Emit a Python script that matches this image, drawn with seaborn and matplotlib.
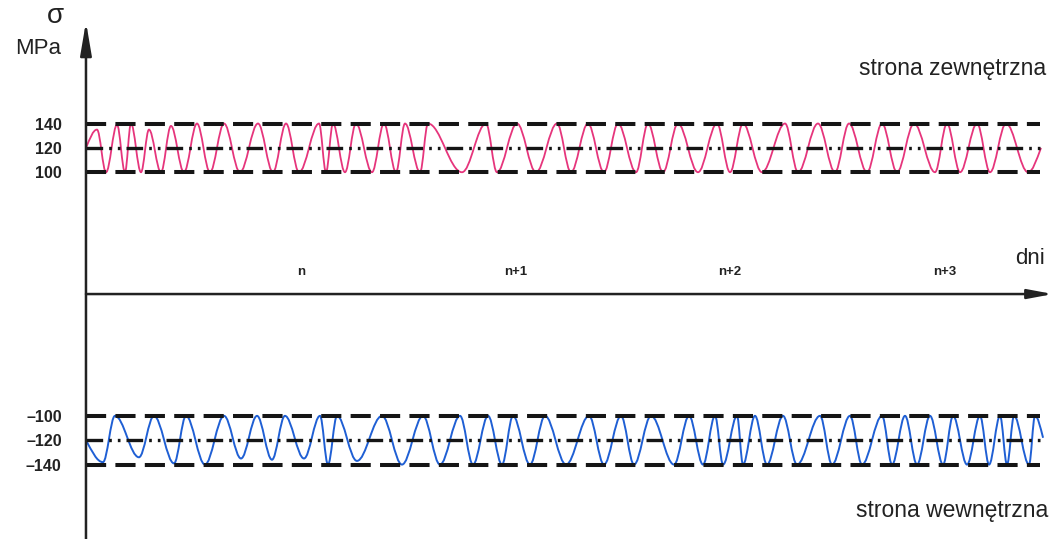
import numpy as np
import pandas as pd
import matplotlib
matplotlib.use('Agg')
import matplotlib.pyplot as plt
from matplotlib.path import Path
from matplotlib.patches import PathPatch
import seaborn as sns

# time in hours from the stress axis (day n = 24 h), stress in MPa
# outer side: extrema of the oscillation
outer_t = [0.0, 1.23, 2.24, 3.47, 4.36, 5.03, 6.15, 7.04, 8.38, 9.50, 10.95,
           12.41, 13.86, 15.43, 17.21, 19.23, 20.90, 22.36, 23.81, 26.05, 26.83,
           27.61, 28.95, 30.18, 31.97, 33.31, 34.65, 35.66, 37.34, 38.23, 42.03,
           44.71, 45.94, 48.18, 50.30, 52.65, 54.21, 56.11, 57.90, 59.47, 61.48,
           62.82, 64.50, 66.17, 68.41, 70.53, 71.99, 73.44, 75.56, 78.14, 79.59,
           81.82, 83.72, 85.29, 87.30, 88.98, 90.65, 92.56, 94.90, 96.24, 97.70,
           99.60, 101.05, 102.84, 105.30, 106.75]
outer_s = [120, 135, 100, 139, 100, 140, 100, 135, 100, 138, 100,
           140, 100, 140, 100, 140, 100, 140, 100, 140, 100,
           140, 100, 140, 100, 140, 100, 140, 100, 140, 100,
           140, 100, 140, 100, 140, 100, 140, 100, 140, 100,
           140, 100, 140, 100, 140, 100, 140, 100, 140, 100,
           140, 100, 140, 100, 140, 100, 140, 100, 140, 100,
           140, 100, 140, 100, 120]

# inner side
inner_t = [0.0, 1.90, 3.24, 5.92, 7.60, 9.84, 11.18, 13.30, 15.43, 17.33, 19.12,
           20.79, 22.24, 24.37, 26.16, 27.05, 28.06, 30.29, 33.09, 35.32, 37.67,
           39.57, 41.81, 43.26, 44.94, 46.50, 47.73, 49.63, 51.31, 53.66, 56.23,
           57.90, 59.80, 61.26, 63.16, 65.73, 67.41, 68.97, 70.31, 71.21, 72.77,
           73.44, 74.78, 76.12, 77.91, 79.48, 82.05, 83.39, 85.40, 86.74, 88.98,
           90.10, 91.55, 92.89, 94.34, 95.80, 96.92, 98.48, 99.93, 100.94, 102.17,
           102.95, 103.74, 105.41, 106.08, 106.98]
inner_s = [-120, -138, -100, -134, -100, -139, -100, -140, -100, -135, -100,
           -136, -100, -135, -100, -140, -100, -137, -100, -140, -100,
           -140, -100, -140, -100, -140, -100, -140, -100, -140, -100,
           -140, -100, -140, -100, -140, -100, -140, -100, -140, -100,
           -140, -100, -140, -100, -140, -100, -140, -100, -140, -100,
           -140, -100, -140, -100, -140, -100, -140, -100, -140, -100,
           -140, -100, -140, -100, -118]

day_ticks = [24, 48, 72, 96]
day_labels = ['n', 'n+1', 'n+2', 'n+3']
stress_ticks = [140, 120, 100, -100, -120, -140]
stress_labels = ['140', '120', '100', '\u2013100', '\u2013120', '\u2013140']
limit_levels = [140, 100, -100, -140]
mean_levels = [120, -120]
line_end = 106.6

sns.set_style('white')
plt.rcParams['font.family'] = ['Liberation Sans', 'DejaVu Sans']

fig = plt.figure(figsize=(10.53, 5.39), dpi=100)
ax = fig.add_axes([0, 0, 1, 1])
ax.set_xlim(-9.61, 108.09)
ax.set_ylim(-201.1, 241.4)


def wave(t, s, k=0.36):
    # smooth cubic curve with flat tangents at each extremum
    verts = [(t[0], s[0])]
    codes = [Path.MOVETO]
    for i in range(len(t) - 1):
        dt = t[i + 1] - t[i]
        a = s[i] if 0 < i else s[i] + 0.5 * (s[i + 1] - s[i])
        b = s[i + 1] if i + 1 < len(t) - 1 else s[i + 1] - 0.5 * (s[i + 1] - s[i])
        verts += [(t[i] + k * dt, a), (t[i + 1] - k * dt, b), (t[i + 1], s[i + 1])]
        codes += [Path.CURVE4] * 3
    return Path(verts, codes)


# limit and mean lines
for lvl in limit_levels:
    sns.lineplot(x=[0, line_end], y=[lvl, lvl], color='#151515', lw=2.9,
                 linestyle=(0, (5, 2.3)), ax=ax)
for lvl in mean_levels:
    sns.lineplot(x=[0, line_end], y=[lvl, lvl], color='#151515', lw=2.4,
                 linestyle=(0, (5, 1.8, 0.8, 1.8, 0.8, 1.8)), ax=ax)

ax.add_patch(PathPatch(wave(outer_t, outer_s), fill=False, ec='#e6357c', lw=1.3))
ax.add_patch(PathPatch(wave(inner_t, inner_s), fill=False, ec='#1f5fd4', lw=1.4))

# axes with arrows
ax.annotate('', xy=(0, 223.5), xytext=(0, -201.1),
            arrowprops=dict(arrowstyle='-|>,head_length=1.0,head_width=0.17',
                            mutation_scale=20, lw=1.8, color='#222222',
                            shrinkA=0, shrinkB=0))
ax.annotate('', xy=(108.09, 0), xytext=(0, 0),
            arrowprops=dict(arrowstyle='-|>,head_length=0.75,head_width=0.14',
                            mutation_scale=20, lw=1.8, color='#222222',
                            shrinkA=0, shrinkB=0))

for side in ax.spines:
    ax.spines[side].set_visible(False)
ax.spines['left'].set_position(('data', 0))
ax.spines['bottom'].set_position(('data', 0))
ax.set_yticks(stress_ticks, stress_labels)
ax.set_xticks(day_ticks, [''] * len(day_ticks))
ax.tick_params(axis='y', direction='inout', length=9, width=1.8, color='#222222',
               labelsize=11.5, labelcolor='#222222', pad=13)
for lab in ax.get_yticklabels():
    lab.set_fontweight('bold')
ax.tick_params(axis='x', direction='inout', length=11, width=1.8, color='#222222')
for t, lab in zip(day_ticks, day_labels):
    ax.text(t, 13, lab, ha='center', va='bottom', fontsize=9.5,
            fontweight='bold', color='#222222')
ax.set_xlabel('')
ax.set_ylabel('')

fig.text(55 / 1053, 1 - 16 / 539, '\u03c3', ha='center', va='center',
         fontsize=20, color='#222222')
fig.text(38 / 1053, 1 - 49 / 539, 'MPa', ha='center', va='center',
         fontsize=16, color='#222222')
fig.text(1045 / 1053, 1 - 259 / 539, 'dni', ha='right', va='center',
         fontsize=16, color='#222222')
fig.text(1046 / 1053, 1 - 68 / 539, 'strona zewnętrzna', ha='right', va='center',
         fontsize=16.5, color='#222222')
fig.text(1048 / 1053, 1 - 510 / 539, 'strona wewnętrzna', ha='right', va='center',
         fontsize=16.5, color='#222222')

fig.savefig('out.png', dpi=100)
